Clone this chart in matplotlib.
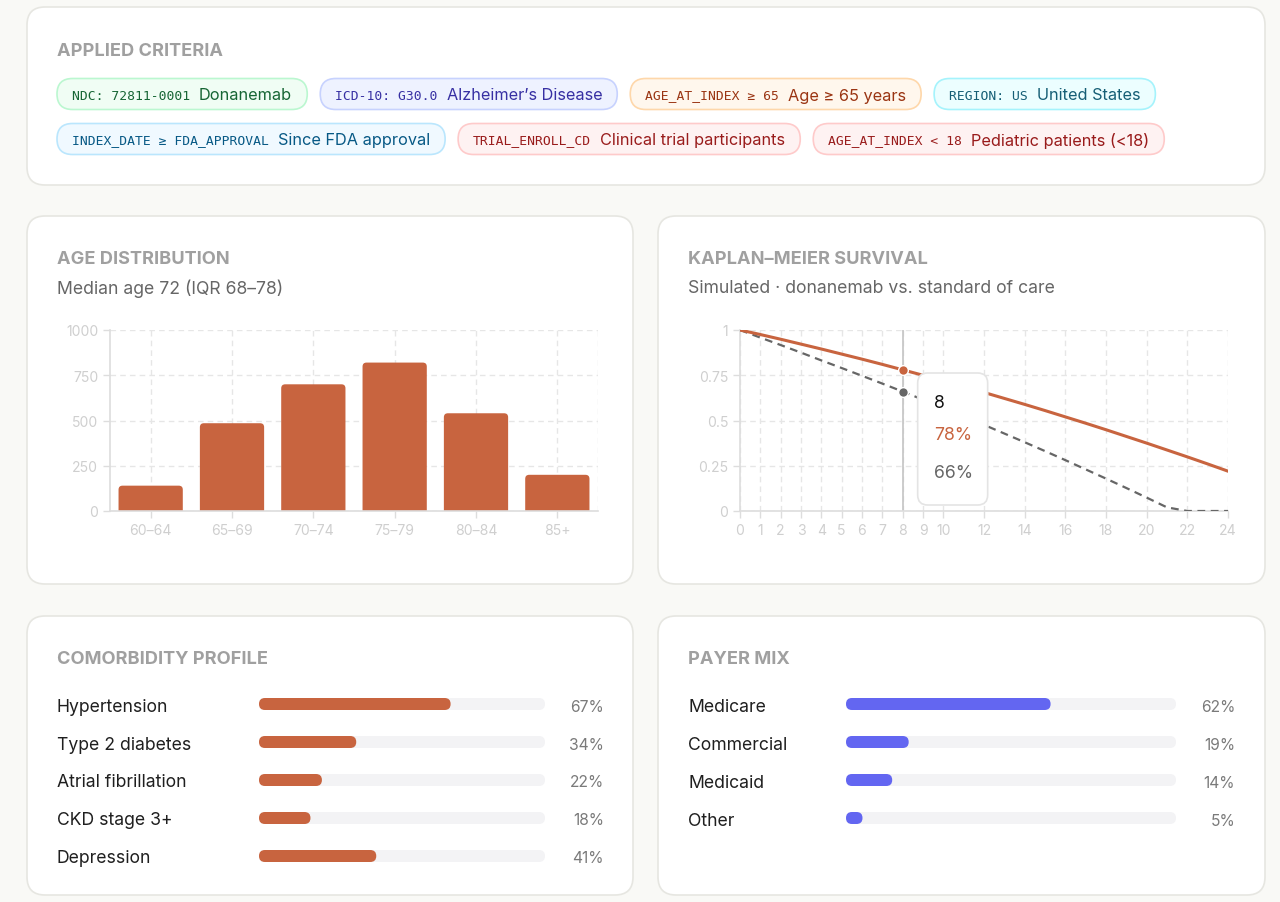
import matplotlib
matplotlib.use("Agg")
import matplotlib.pyplot as plt
import matplotlib.transforms as mtransforms
from matplotlib.patches import FancyBboxPatch

W, H = 1280, 903

# ---- data ----
criteria_codes = ["NDC: 72811-0001", "ICD-10: G30.0", "AGE_AT_INDEX \u2265 65", "REGION: US",
                  "INDEX_DATE \u2265 FDA_APPROVAL", "TRIAL_ENROLL_CD", "AGE_AT_INDEX < 18"]
criteria_labels = ["Donanemab", "Alzheimer\u2019s Disease", "Age \u2265 65 years", "United States",
                   "Since FDA approval", "Clinical trial participants", "Pediatric patients (<18)"]
criteria_tone = ["green", "indigo", "amber", "cyan", "sky", "red", "red"]

age_bins = ["60\u201364", "65\u201369", "70\u201374", "75\u201379", "80\u201384", "85+"]
age_counts = [140, 485, 700, 820, 540, 200]

km_months = list(range(25))
km_treat = [1.0, 0.975, 0.949, 0.922, 0.895, 0.867, 0.839, 0.81, 0.78, 0.75, 0.72, 0.688, 0.655,
            0.622, 0.589, 0.555, 0.52, 0.485, 0.449, 0.412, 0.375, 0.337, 0.299, 0.26, 0.22]
km_control = [1.0, 0.958, 0.917, 0.875, 0.832, 0.79, 0.747, 0.704, 0.66, 0.615, 0.57, 0.523, 0.476,
              0.428, 0.38, 0.331, 0.281, 0.23, 0.179, 0.127, 0.074, 0.02, 0.0, 0.0, 0.0]
km_ticks = [0, 1, 2, 3, 4, 5, 6, 7, 8, 9, 10, 12, 14, 16, 18, 20, 22, 24]
hover_month = 8

comorb_names = ["Hypertension", "Type 2 diabetes", "Atrial fibrillation", "CKD stage 3+", "Depression"]
comorb_pct = [67, 34, 22, 18, 41]
payer_names = ["Medicare", "Commercial", "Medicaid", "Other"]
payer_pct = [62, 19, 14, 5]

# ---- styles ----
TONES = {
    "green": ("#F0FDF4", "#BBF7D0", "#166534"),
    "indigo": ("#EEF2FF", "#C7D2FE", "#3730A3"),
    "amber": ("#FFF7ED", "#FED7AA", "#9A3412"),
    "cyan": ("#ECFEFF", "#A5F3FC", "#155E75"),
    "sky": ("#F0F9FF", "#BAE6FD", "#075985"),
    "red": ("#FEF2F2", "#FECACA", "#991B1B"),
}
ORANGE = "#C8643F"
INDIGO = "#6366F1"
GRAY_LINE = "#666666"
TICK_C = "#CFCFCF"
GRID_C = "#E6E6E6"
TITLE_C = "#A0A0A0"
SANS = ["Inter", "DejaVu Sans"]
MONO = ["DejaVu Sans Mono"]
FS = 17.6  # body text size in px
DY = 2     # baseline nudge for va=center text

plt.rcParams["font.family"] = SANS


def pt(px):
    return px * 72 / 100


def px_rect(x0, y0, x1, y1):
    return [x0 / W, 1 - y1 / H, (x1 - x0) / W, (y1 - y0) / H]


fig = plt.figure(figsize=(W / 100, H / 100), dpi=100, facecolor="#F9F9F6")
bg = fig.add_axes([0, 0, 1, 1], zorder=0)
bg.set_xlim(0, W)
bg.set_ylim(H, 0)
bg.axis("off")
renderer = fig.canvas.get_renderer()


def card(x0, y0, x1, y1):
    bg.add_patch(FancyBboxPatch((x0, y0), x1 - x0, y1 - y0,
                                boxstyle="round,pad=0,rounding_size=18",
                                fc="white", ec="#E6E6E1", lw=1.2))


def title(x, y, s):
    bg.text(x, y + DY, s, fontsize=pt(18.2), fontweight="bold", color=TITLE_C, va="center")


card(27, 8, 1265, 186)
card(27, 217, 633, 585)
card(658, 217, 1265, 585)
card(27, 617, 633, 896)
card(658, 617, 1265, 896)

title(57, 49, "APPLIED CRITERIA")
title(57, 258, "AGE DISTRIBUTION")
title(688, 258, "KAPLAN\u2013MEIER SURVIVAL")
title(57, 658, "COMORBIDITY PROFILE")
title(688, 658, "PAYER MIX")
bg.text(57, 287 + DY, "Median age 72 (IQR 68\u201378)", fontsize=pt(FS), color="#666666", va="center")
bg.text(688, 287 + DY, "Simulated \u00b7 donanemab vs. standard of care", fontsize=pt(FS),
        color="#666666", va="center")

# ---- criteria chips ----
x, y = 57, 95
for code, label, tone in zip(criteria_codes, criteria_labels, criteria_tone):
    fc, ec, tc = TONES[tone]
    t1 = bg.text(0, 0, code, family=MONO, fontsize=pt(13.0), color=tc, va="center")
    t2 = bg.text(0, 0, label, fontsize=pt(16.3), color=tc, va="center")
    w1 = t1.get_window_extent(renderer).width
    w2 = t2.get_window_extent(renderer).width
    wchip = 15 + w1 + 9 + w2 + 15
    if x + wchip > 1240:
        x, y = 57, y + 45
    bg.add_patch(FancyBboxPatch((x, y - 15.5), wchip, 31, boxstyle="round,pad=0,rounding_size=15.5",
                                fc=fc, ec=ec, lw=1.2))
    t1.set_position((x + 15, y + 1))
    t2.set_position((x + 15 + w1 + 9, y + 1))
    x += wchip + 13


def style_axes(ax):
    ax.set_facecolor("none")
    for s in ("top", "right"):
        ax.spines[s].set_visible(False)
    for s in ("left", "bottom"):
        ax.spines[s].set_color("#DDDDDD")
        ax.spines[s].set_linewidth(1.2)
    ax.tick_params(colors="#DDDDDD", labelcolor=TICK_C, labelsize=pt(14), length=5, width=1)
    ax.tick_params(axis="x", pad=4)


# ---- age distribution ----
ax1 = fig.add_axes(px_rect(110, 331, 598, 512), zorder=2)
style_axes(ax1)
ax1.set_xlim(-0.5, len(age_bins) - 0.5)
ax1.set_ylim(0, 1000)
ax1.set_yticks([0, 250, 500, 750, 1000])
ax1.set_xticks(range(len(age_bins)))
ax1.set_xticklabels(age_bins)
ax1.grid(True, color=GRID_C, ls=(0, (4, 3)), lw=1)
ax1.axvline(len(age_bins) - 0.5, color=GRID_C, ls=(0, (4, 3)), lw=1)
ax1.set_axisbelow(True)
bw = 0.79
pxx = 488 / len(age_bins)
pxy = 181 / 1000
r = 4
for i, v in enumerate(age_counts):
    ry = r / pxy
    ax1.add_patch(FancyBboxPatch((i - bw / 2, -ry), bw, v + ry,
                                 boxstyle=f"round,pad=0,rounding_size={r / pxx}",
                                 mutation_aspect=pxx / pxy, fc=ORANGE, ec="none", zorder=2))

# ---- Kaplan-Meier ----
ax2 = fig.add_axes(px_rect(740, 331, 1228, 512), zorder=2)
style_axes(ax2)
ax2.set_xlim(0, 24)
ax2.set_ylim(0, 1)
ax2.set_xticks(km_ticks)
ax2.set_yticks([0, 0.25, 0.5, 0.75, 1])
ax2.set_yticklabels(["0", "0.25", "0.5", "0.75", "1"])
ax2.grid(True, color=GRID_C, ls=(0, (4, 3)), lw=1)
ax2.set_axisbelow(True)
ax2.axvline(hover_month, color="#C4C4C4", lw=1.2, zorder=1)
ax2.plot(km_months, km_control, color=GRAY_LINE, lw=1.6, ls=(0, (3.5, 2.5)), zorder=3)
ax2.plot(km_months, km_treat, color=ORANGE, lw=2.2, zorder=3)
hi = km_months.index(hover_month)
ax2.plot([hover_month], [km_treat[hi]], "o", ms=7, color=ORANGE, mec="white", mew=1, zorder=4)
ax2.plot([hover_month], [km_control[hi]], "o", ms=7, color=GRAY_LINE, mec="white", mew=1, zorder=4)

# tooltip
hx, _ = bg.transData.inverted().transform(ax2.transData.transform((hover_month, 0)))
tx0 = hx + 15
tip = FancyBboxPatch((tx0, 374), 70, 132, boxstyle="round,pad=0,rounding_size=10",
                     fc="white", ec="#E4E4E4", lw=1.2, transform=bg.transData, zorder=6, clip_on=False)
ax2.add_patch(tip)
ax2.text(tx0 + 16, 401 + 3, f"{hover_month}", transform=bg.transData, fontsize=pt(FS),
         color="#111111", va="center", zorder=7)
ax2.text(tx0 + 16, 433 + 3, f"{round(km_treat[hi] * 100)}%", transform=bg.transData, fontsize=pt(FS),
         color=ORANGE, va="center", zorder=7)
ax2.text(tx0 + 16, 471 + 3, f"{round(km_control[hi] * 100)}%", transform=bg.transData, fontsize=pt(FS),
         color="#666666", va="center", zorder=7)


# ---- progress bar panels ----
def bar_panel(names, pct, color, x0, x1, ytop, label_x, pct_x):
    n = len(names)
    ax = fig.add_axes(px_rect(x0, ytop, x1, ytop + 38 * n), zorder=2)
    ax.set_xlim(0, 100)
    ax.set_ylim(n - 0.5, -0.5)
    ax.axis("off")
    ppx = (x1 - x0) / 100
    ppy = 38
    h = 12 / ppy
    rs = 6 / ppx
    asp = ppx / ppy
    tr = mtransforms.blended_transform_factory(bg.transData, ax.transData)
    ty = DY / ppy
    for i, (nm, v) in enumerate(zip(names, pct)):
        ax.add_patch(FancyBboxPatch((0, i - h / 2), 100, h, boxstyle=f"round,pad=0,rounding_size={rs}",
                                    mutation_aspect=asp, fc="#F3F3F5", ec="none", clip_on=False))
        ax.add_patch(FancyBboxPatch((0, i - h / 2), v, h, boxstyle=f"round,pad=0,rounding_size={rs}",
                                    mutation_aspect=asp, fc=color, ec="none", clip_on=False))
        ax.text(label_x, i + ty, nm, transform=tr, fontsize=pt(FS), color="#1F1F1F", va="center",
                clip_on=False)
        ax.text(pct_x, i + ty, f"{v}%", transform=tr, fontsize=pt(15.6), color="#7A7A7A", va="center",
                ha="right", clip_on=False)
    return ax


bar_panel(comorb_names, comorb_pct, ORANGE, 259, 545, 686, 57, 604)
bar_panel(payer_names, payer_pct, INDIGO, 846, 1176, 686, 688, 1235)

fig.savefig("out.png", dpi=100, facecolor=fig.get_facecolor())
